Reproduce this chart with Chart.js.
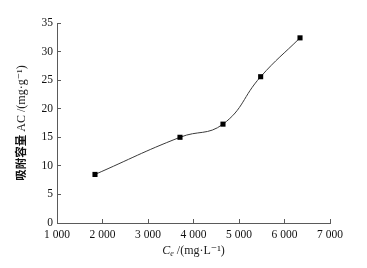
<!DOCTYPE html>
<html>
<head>
<meta charset="utf-8">
<script src="https://cdn.jsdelivr.net/npm/chart.js@4/dist/chart.umd.min.js"></script>
<style>
  html, body { margin: 0; padding: 0; background: #fff; }
  #wrap { width: 367px; height: 268px; }
</style>
</head>
<body>
<div id="wrap"><canvas id="adsorption_chart"></canvas></div>
<script>
// equilibrium concentration Ce (mg/L) and adsorption capacity AC (mg/g)
const ceValues = [1835, 3703, 4648, 5476, 6341];
const acValues = [8.5, 15.0, 17.3, 25.6, 32.4];
const xTicks = [1000, 2000, 3000, 4000, 5000, 6000, 7000];
const yTicks = [0, 5, 10, 15, 20, 25, 30, 35];
const yTitleCn = '吸附容量';
const yTitleUnit = ' AC /(mg·g⁻¹)';
const xTitleSym = 'C';
const xTitleSub = 'e';
const xTitleUnit = ' /(mg·L⁻¹)';

const axisColor = '#5a5a5a';
const serif = "'Liberation Serif', 'DejaVu Serif', serif";
const tickFont = { family: serif, size: 11.5 };

function spaced(v) {
    return v.toString().replace(/\B(?=(\d{3})+(?!\d))/g, ' ');
}

// axis titles drawn by hand: mixed fonts (bold chinese, italic C, subscript e)
const titlePlugin = {
    id: 'axisTitles',
    afterDraw(chart) {
        const c = chart.ctx;
        const area = chart.chartArea;
        c.save();
        c.textBaseline = 'middle';
        c.textAlign = 'left';

        // y title
        const fCn = "bold 11.5px 'Noto Sans CJK SC'";
        const fEn = '12px ' + serif;
        c.font = fCn;
        const wCn = c.measureText(yTitleCn).width;
        c.font = fEn;
        const wEn = c.measureText(yTitleUnit).width;
        c.save();
        c.translate(21, (area.top + area.bottom) / 2);
        c.rotate(-Math.PI / 2);
        let x0 = -(wCn + wEn) / 2;
        c.fillStyle = '#111';
        c.font = fCn;
        c.fillText(yTitleCn, x0, 0);
        c.fillStyle = '#222';
        c.font = fEn;
        c.fillText(yTitleUnit, x0 + wCn, 1);
        c.restore();

        // x title
        const fSym = 'italic 12px ' + serif;
        const fSub = 'italic 8px ' + serif;
        c.font = fSym;
        const w1 = c.measureText(xTitleSym).width;
        c.font = fSub;
        const w2 = c.measureText(xTitleSub).width;
        c.font = fEn;
        const w3 = c.measureText(xTitleUnit).width;
        const cy = 251;
        let x = (area.left + area.right) / 2 - (w1 + w2 + w3) / 2;
        c.fillStyle = '#222';
        c.font = fSym;
        c.fillText(xTitleSym, x, cy);
        x += w1;
        c.font = fSub;
        c.fillText(xTitleSub, x, cy + 3);
        x += w2;
        c.font = fEn;
        c.fillText(xTitleUnit, x, cy);
        c.restore();
    }
};

const ctx = document.getElementById('adsorption_chart').getContext('2d');
const adsorptionChart = new Chart(ctx, {
    type: 'line',
    data: {
        datasets: [{
            label: 'AC',
            data: ceValues.map((x, i) => ({ x: x, y: acValues[i] })),
            borderColor: '#3a3a3a',
            borderWidth: 1,
            tension: 0.45,
            pointStyle: 'rect',
            pointRadius: 3.6,
            pointBackgroundColor: '#000',
            pointBorderColor: '#000',
            pointBorderWidth: 0,
            fill: false
        }]
    },
    options: {
        responsive: true,
        maintainAspectRatio: false,
        animation: false,
        events: [],
        layout: { padding: { left: 0, right: 37, top: 23, bottom: 0 } },
        plugins: {
            legend: { display: false },
            tooltip: { enabled: false }
        },
        scales: {
            x: {
                type: 'linear',
                min: xTicks[0],
                max: xTicks[xTicks.length - 1],
                afterBuildTicks: scale => { scale.ticks = xTicks.map(v => ({ value: v })); },
                afterFit: scale => { scale.height = 45; },
                border: { color: axisColor, width: 1 },
                grid: { drawOnChartArea: false, tickLength: -4, color: axisColor },
                ticks: {
                    color: '#111',
                    font: tickFont,
                    padding: 9,
                    maxRotation: 0,
                    callback: v => spaced(v)
                }
            },
            y: {
                min: yTicks[0],
                max: yTicks[yTicks.length - 1],
                afterBuildTicks: scale => { scale.ticks = yTicks.map(v => ({ value: v })); },
                afterFit: scale => { scale.width = 57; },
                border: { color: axisColor, width: 1 },
                grid: { drawOnChartArea: false, tickLength: -4, color: axisColor },
                ticks: {
                    color: '#111',
                    font: tickFont,
                    padding: 8
                }
            }
        }
    },
    plugins: [titlePlugin]
});
</script>
</body>
</html>
